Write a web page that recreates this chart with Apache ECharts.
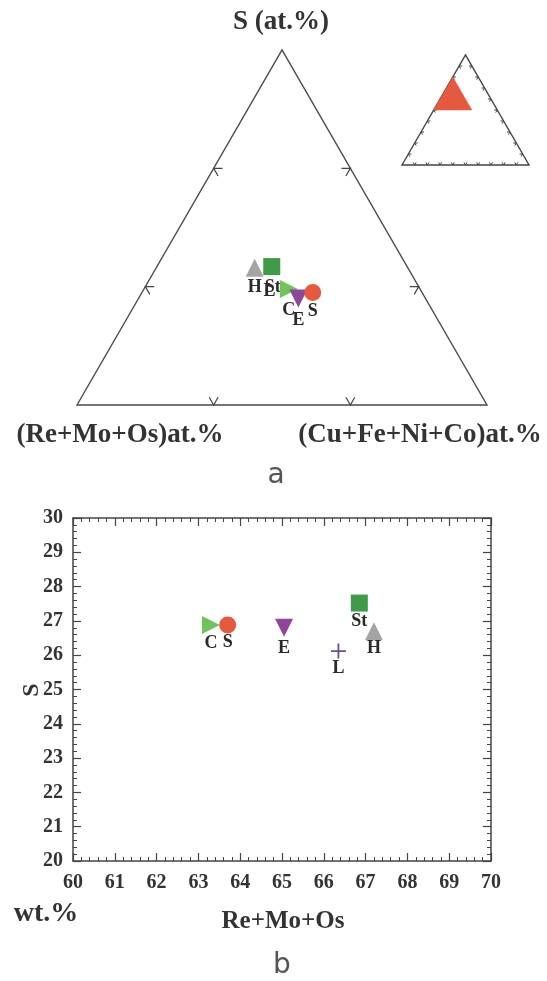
<!DOCTYPE html>
<html><head><meta charset="utf-8">
<script src="https://cdn.jsdelivr.net/npm/echarts@6/dist/echarts.min.js"></script>
<style>html,body{margin:0;padding:0;background:#fff}#c{width:547px;height:981px}</style>
</head><body><div id="c"></div>
<script>
// ---- data ----
const minerals = ['H', 'L', 'St', 'C', 'E', 'S'];
// ternary (at. fraction)
const atS  = [0.616, 0.616, 0.617, 0.598, 0.590, 0.595];
const atRe = [0.312, 0.299, 0.299, 0.296, 0.293, 0.280];
const atCu = [0.072, 0.085, 0.084, 0.106, 0.117, 0.125];
// wt.%
const wtRe = [67.2, 66.35, 66.85, 63.3, 65.05, 63.7];
const wtS  = [26.7, 26.12, 27.52, 26.88, 26.8, 26.88];
// zoomed sub-triangle limits (fractions)
const subSmin = 0.5, subSmax = 0.8, subCuMax = 0.3;
const mainTickS = [0.6, 0.7];
const mainTickCu = [0.1, 0.2];
const insetTicks = [0.1, 0.2, 0.3, 0.4, 0.5, 0.6, 0.7, 0.8, 0.9];
const xTickMin = 60, xTickMax = 70, yTickMin = 20, yTickMax = 30;

// ---- styles ----
const sym = {
  H:  {symbol: 'triangle', size: 18, rot: 0,   color: '#A4A4A4'},
  L:  {symbol: 'path://M4.4,0H5.6V4.4H10V5.6H5.6V10H4.4V5.6H0V4.4H4.4Z', size: 15, rot: 0, color: '#6E4C8C'},
  St: {symbol: 'rect', size: 17, rot: 0, color: '#3F9B47'},
  C:  {symbol: 'triangle', size: 18, rot: -90, color: '#72C35C'},
  E:  {symbol: 'triangle', size: 18, rot: 180, color: '#8E459B'},
  S:  {symbol: 'circle', size: 17, rot: 0, color: '#E55A3E'}
};
const SERIF = '"Liberation Serif","Times New Roman",serif';
const R3 = Math.sqrt(3) / 2;
const tern = (s, cu) => [cu + s / 2, s * R3];

// tick chevrons for main sub-triangle
const d = 0.0065;
const mainTickDefs = [];
mainTickS.forEach(s => { // left edge (Cu=0)
  const p = tern(s, 0), a = tern(s, d), b = tern(s - d, d);
  mainTickDefs.push([a[0], a[1], p[0], p[1], b[0], b[1]]);
});
mainTickS.forEach(s => { // right edge (Re=min)
  const cu = subSmin + subCuMax - s;
  const p = tern(s, cu), a = tern(s, cu - d), b = tern(s - d, cu);
  mainTickDefs.push([a[0], a[1], p[0], p[1], b[0], b[1]]);
});
mainTickCu.forEach(cu => { // bottom edge
  const p = tern(subSmin, cu), a = tern(subSmin + d, cu - d), b = tern(subSmin + d, cu);
  mainTickDefs.push([a[0], a[1], p[0], p[1], b[0], b[1]]);
});
const di = 0.024;
const insetTickDefs = [];
insetTicks.forEach(t => {
  let p = tern(t, 0), a = tern(t, di), b = tern(t - di, di);
  insetTickDefs.push([a[0], a[1], p[0], p[1], b[0], b[1]]);
  p = tern(t, 1 - t); a = tern(t, 1 - t - di); b = tern(t - di, 1 - t);
  insetTickDefs.push([a[0], a[1], p[0], p[1], b[0], b[1]]);
  p = tern(0, t); a = tern(di, t - di); b = tern(di, t);
  insetTickDefs.push([a[0], a[1], p[0], p[1], b[0], b[1]]);
});

function polyItem(verts, style) {
  return {type: 'custom', coordinateSystem: 'cartesian2d', silent: true, clip: false,
    xAxisIndex: style.xi, yAxisIndex: style.yi, data: [[verts[0][0], verts[0][1]]], z: style.z || 2,
    renderItem: (p, api) => ({type: 'polygon',
      shape: {points: verts.map(v => api.coord(v))},
      style: {fill: style.fill, stroke: style.stroke, lineWidth: style.lw || 0}})};
}
function tickSeries(defs, xi, yi, lw) {
  return {type: 'custom', coordinateSystem: 'cartesian2d', silent: true, clip: false,
    xAxisIndex: xi, yAxisIndex: yi, data: defs, z: 3,
    renderItem: (p, api) => ({type: 'polyline',
      shape: {points: [api.coord([api.value(0), api.value(1)]), api.coord([api.value(2), api.value(3)]), api.coord([api.value(4), api.value(5)])]},
      style: {stroke: '#444', lineWidth: lw, fill: null}})};
}

const series = [];
// main triangle frame
series.push(polyItem([tern(subSmin, 0), tern(subSmax, 0), tern(subSmin, subCuMax)], {xi: 0, yi: 0, fill: 'none', stroke: '#4a4a4a', lw: 1.4}));
series.push(tickSeries(mainTickDefs, 0, 0, 1.2));
// inset
series.push(polyItem([tern(0, 0), tern(1, 0), tern(0, 1)], {xi: 1, yi: 1, fill: 'none', stroke: '#444', lw: 1.4}));
series.push(tickSeries(insetTickDefs, 1, 1, 1));
series.push(polyItem([tern(subSmin, 0), tern(subSmax, 0), tern(subSmin, subCuMax)], {xi: 1, yi: 1, fill: '#E55A3E', stroke: '#E55A3E', lw: 0.5, z: 4}));

const ternLabel = {H: [2, [0, 0]], L: [9, [-3, 0]], St: [3, [1, 0]], C: [3, [0, 0]], E: [4, [0, 0]], S: [1, [0, 0]]};
const wtLabel = {H: [-1, [0, 0]], L: [1, [0, 0]], St: [1, [0, 0]], C: [0, [0, 0]], E: [3, [0, 0]], S: [0, [0, 0]]};
minerals.forEach((m, i) => {
  const st = sym[m];
  const itemStyle = {color: st.color, opacity: 1};
  series.push({type: 'scatter', xAxisIndex: 0, yAxisIndex: 0, z: 5 + i,
    symbol: st.symbol, symbolSize: m === 'L' ? 12 : st.size, symbolRotate: st.rot, itemStyle,
    label: {show: true, formatter: m, position: 'bottom', distance: ternLabel[m][0], offset: ternLabel[m][1],
      fontFamily: SERIF, fontWeight: 'bold', fontSize: 18, color: '#2a2a2a'},
    data: [tern(atS[i], atCu[i])]});
  series.push({type: 'scatter', xAxisIndex: 2, yAxisIndex: 2, z: 5 + i,
    symbol: st.symbol, symbolSize: st.size, symbolRotate: st.rot, itemStyle,
    label: {show: true, formatter: m, position: 'bottom', distance: wtLabel[m][0], offset: wtLabel[m][1],
      fontFamily: SERIF, fontWeight: 'bold', fontSize: 18, color: '#2a2a2a'},
    data: [[wtRe[i], wtS[i]]]});
});

const hidden = {show: false};
const axLine = {show: true, lineStyle: {color: '#444', width: 1.5}};
const mkX = (pos, labels) => ({type: 'value', gridIndex: 2, position: pos, min: xTickMin, max: xTickMax, interval: 1,
  axisLine: axLine, axisTick: {show: true, inside: true, length: 8, lineStyle: {color: '#444', width: 1.2}},
  minorTick: {show: true, splitNumber: 5, length: 4, lineStyle: {color: '#444', width: 1}},
  splitLine: hidden, minorSplitLine: hidden,
  axisLabel: labels ? {show: true, margin: 12, fontFamily: SERIF, fontWeight: 'bold', fontSize: 20, color: '#333'} : hidden});
const mkY = (pos, labels) => ({type: 'value', gridIndex: 2, position: pos, min: yTickMin, max: yTickMax, interval: 1,
  axisLine: axLine, axisTick: {show: true, inside: true, length: 8, lineStyle: {color: '#444', width: 1.2}},
  minorTick: {show: true, splitNumber: 5, length: 4, lineStyle: {color: '#444', width: 1}},
  splitLine: hidden, minorSplitLine: hidden,
  axisLabel: labels ? {show: true, margin: 10, fontFamily: SERIF, fontWeight: 'bold', fontSize: 20, color: '#333'} : hidden});

const option = {
  backgroundColor: '#fff',
  animation: false,
  grid: [
    {left: 77, top: 50, width: 410, height: 355},
    {left: 402, top: 55, width: 127, height: 110},
    {left: 73, top: 518, width: 418, height: 343}
  ],
  xAxis: [
    {type: 'value', gridIndex: 0, min: subSmin * 0.5, max: subSmin * 0.5 + subCuMax, show: false},
    {type: 'value', gridIndex: 1, min: 0, max: 1, show: false},
    mkX('bottom', true),
    mkX('top', false)
  ],
  yAxis: [
    {type: 'value', gridIndex: 0, min: subSmin * R3, max: subSmax * R3, show: false},
    {type: 'value', gridIndex: 1, min: 0, max: R3, show: false},
    mkY('left', true),
    mkY('right', false)
  ],
  series,
  graphic: [
    {type: 'text', x: 281, y: 22, style: {text: 'S (at.%)', font: 'bold 27px ' + SERIF, fill: '#333', textAlign: 'center', textVerticalAlign: 'middle'}},
    {type: 'text', x: 120, y: 435, style: {text: '(Re+Mo+Os)at.%', font: 'bold 27px ' + SERIF, fill: '#333', textAlign: 'center', textVerticalAlign: 'middle'}},
    {type: 'text', x: 420, y: 435, style: {text: '(Cu+Fe+Ni+Co)at.%', font: 'bold 27px ' + SERIF, fill: '#333', textAlign: 'center', textVerticalAlign: 'middle'}},
    {type: 'text', x: 276, y: 476, style: {text: 'a', font: '28px "DejaVu Sans", sans-serif', fill: '#555', textAlign: 'center', textVerticalAlign: 'middle'}},
    {type: 'text', x: 32, y: 690, rotation: Math.PI / 2, style: {text: 'S', font: 'bold 24px ' + SERIF, fill: '#333', textAlign: 'center', textVerticalAlign: 'middle'}},
    {type: 'text', x: 46, y: 914, style: {text: 'wt.%', font: 'bold 28px ' + SERIF, fill: '#333', textAlign: 'center', textVerticalAlign: 'middle'}},
    {type: 'text', x: 283, y: 922, style: {text: 'Re+Mo+Os', font: 'bold 25px ' + SERIF, fill: '#333', textAlign: 'center', textVerticalAlign: 'middle'}},
    {type: 'text', x: 282, y: 966, style: {text: 'b', font: '28px "DejaVu Sans", sans-serif', fill: '#555', textAlign: 'center', textVerticalAlign: 'middle'}}
  ]
};
const chart = echarts.init(document.getElementById('c'), null, {renderer: 'canvas'});
chart.setOption(option);
</script></body></html>
